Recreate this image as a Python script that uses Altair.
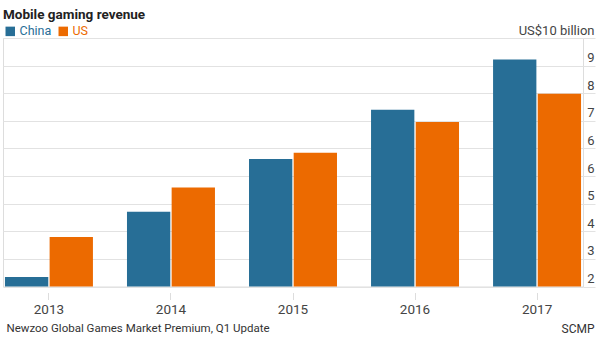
import altair as alt
import pandas as pd

years = ["2013", "2014", "2015", "2016", "2017"]
series = ["China", "US"]
china = [2.30, 4.37, 6.04, 7.60, 9.19]
us = [3.57, 5.14, 6.24, 7.21, 8.11]
colors = ["#276e96", "#ec6a00"]
baseline = 2.0
y_ticks = [2, 2.875, 3.75, 4.625, 5.5, 6.375, 7.25, 8.125, 9, 9.875]
y_labels = ["2", "3", "4", "5", "6", "6", "7", "8", "9", "US$10 billion"]
title_text = "Mobile gaming revenue"
source_text = "Newzoo Global Games Market Premium, Q1 Update"
credit_text = "SCMP"

rows = []
for i, yr in enumerate(years):
    rows.append({"year": yr, "country": "China", "value": china[i], "base": baseline})
    rows.append({"year": yr, "country": "US", "value": us[i], "base": baseline})
df = pd.DataFrame(rows)

FONT = "Roboto, DejaVu Sans Condensed, sans-serif"

label_expr = "[" + ",".join("'" + s + "'" for s in y_labels) + "][indexof([" + ",".join(str(v) for v in y_ticks) + "], datum.value)]"
legend_color_expr = "datum.label == '" + series[0] + "' ? '" + colors[0] + "' : '" + colors[1] + "'"

chart = alt.Chart(df).mark_bar().encode(
    x=alt.X(
        "year:N",
        sort=years,
        scale=alt.Scale(paddingInner=0.279, paddingOuter=0.016),
        axis=alt.Axis(
            title=source_text,
            titleX=3,
            titleY=39,
            titleAlign="left",
            titleBaseline="alphabetic",
            titleFont=FONT,
            titleFontSize=11.5,
            titleFontWeight="normal",
            titleColor="#333333",
            labelAngle=0,
            labelFont=FONT,
            labelFontSize=13.5,
            labelColor="#444444",
            labelPadding=3,
            domain=False,
            offset=6,
            tickSize=7,
            tickColor="#dddddd",
            grid=False,
        ),
    ),
    xOffset=alt.XOffset("country:N", sort=series, scale=alt.Scale(paddingInner=0.03, paddingOuter=0)),
    y=alt.Y(
        "value:Q",
        scale=alt.Scale(domain=[y_ticks[0], y_ticks[-1]], zero=False, nice=False),
        axis=alt.Axis(
            orient="right",
            values=y_ticks,
            labelExpr=label_expr,
            labelAlign="right",
            labelBaseline="alphabetic",
            labelOffset=-4,
            labelPadding=-1,
            labelFont=FONT,
            labelFontSize=13,
            labelColor="#444444",
            ticks=True,
            tickSize=12,
            tickColor="#e2e2e2",
            tickWidth=1,
            grid=True,
            gridColor="#e2e2e2",
            gridWidth=1,
            domain=False,
            title=credit_text,
            titleAngle=0,
            titleAlign="right",
            titleBaseline="alphabetic",
            titleX=11,
            titleY=294,
            titleFont=FONT,
            titleFontSize=12,
            titleFontWeight="normal",
            titleColor="#333333",
        ),
    ),
    y2=alt.Y2("base:Q"),
    color=alt.Color(
        "country:N",
        sort=series,
        scale=alt.Scale(domain=series, range=colors),
        legend=alt.Legend(
            title=None,
            orient="none",
            legendX=1,
            legendY=-13,
            direction="horizontal",
            symbolType="square",
            symbolSize=90,
            symbolStrokeWidth=0,
            symbolOpacity=1,
            labelFont=FONT,
            labelFontSize=12.5,
            labelColor={"expr": legend_color_expr},
            labelOffset=3,
            columnPadding=5,
        ),
    ),
).properties(
    width=580,
    height=248.5,
    title=alt.TitleParams(
        text=title_text,
        anchor="start",
        frame="group",
        orient="top",
        offset=3,
        font=FONT,
        fontSize=13.5,
        fontWeight="bold",
        color="#222222",
    ),
    autosize=alt.AutoSizeParams(type="none"),
    padding={"left": 3, "top": 38, "right": 17, "bottom": 50},
).configure_view(
    stroke=None
).configure(
    background="white"
)

chart.save("out.html", embed_options={"renderer": "svg", "actions": False})
